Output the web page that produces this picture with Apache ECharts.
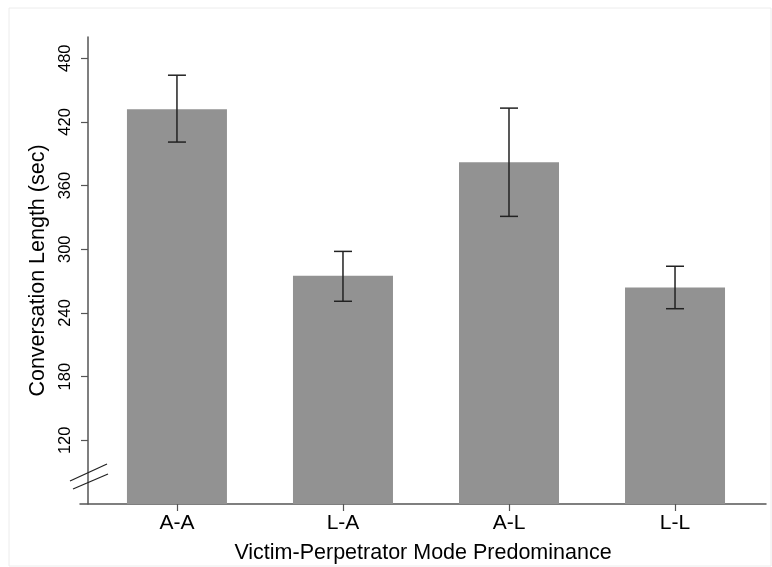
<!DOCTYPE html>
<html>
<head>
<meta charset="utf-8">
<script src="https://cdn.jsdelivr.net/npm/echarts@6/dist/echarts.min.js"></script>
<style>
html,body{margin:0;padding:0;background:#fff;}
#chart{width:772px;height:567px;}
</style>
</head>
<body>
<div id="chart"></div>
<script>
const categories = ['A-A', 'L-A', 'A-L', 'L-L'];
const means = [432, 275, 382, 264];
const errLow = [401, 251, 331, 244];
const errHigh = [464, 298, 433, 284];
const yTicks = [120, 180, 240, 300, 360, 420, 480];
const xPositions = [1, 2, 3, 4];

const chart = echarts.init(document.getElementById('chart'), null, {renderer: 'canvas'});
const FONT = 'Liberation Sans, Arial, Helvetica, sans-serif';

const option = {
  animation: false,
  backgroundColor: '#fff',
  grid: {left: 80, right: 6, top: 37, bottom: 63, containLabel: false, outerBoundsMode: 'none'},
  xAxis: {
    type: 'value',
    min: 0.416,
    max: 4.548,
    splitLine: {show: false},
    axisLine: {show: true, lineStyle: {color: '#555', width: 1.5}},
    axisTick: {show: true, customValues: xPositions, length: 7, lineStyle: {color: '#555', width: 1.2}},
    axisLabel: {
      customValues: xPositions,
      formatter: v => categories[Math.round(v) - 1],
      fontSize: 21, color: '#000', margin: 9, fontFamily: FONT
    },
    name: 'Victim-Perpetrator Mode Predominance',
    nameLocation: 'middle',
    nameGap: 38,
    nameTextStyle: {fontSize: 21.5, color: '#000', fontFamily: FONT}
  },
  yAxis: {
    type: 'value',
    min: 60,
    max: 500,
    interval: 60,
    offset: -8,
    splitLine: {show: false},
    axisLine: {show: true, lineStyle: {color: '#555', width: 1.5}},
    axisTick: {show: true, customValues: yTicks, length: 7, lineStyle: {color: '#555', width: 1.2}},
    axisLabel: {
      customValues: yTicks,
      rotate: 90,
      fontSize: 16.5, color: '#000', margin: 14, fontFamily: FONT
    },
    name: 'Conversation Length (sec)',
    nameLocation: 'middle',
    nameGap: 39,
    nameTextStyle: {fontSize: 21.5, color: '#000', fontFamily: FONT}
  },
  series: [
    {
      type: 'bar',
      barWidth: 100,
      itemStyle: {color: '#929292'},
      data: means.map((v, i) => [xPositions[i], v]),
      z: 2
    },
    {
      type: 'custom',
      z: 5,
      data: categories.map((c, i) => [xPositions[i], errLow[i], errHigh[i]]),
      renderItem: function (params, api) {
        const x = api.value(0);
        const lo = api.coord([x, api.value(1)]);
        const hi = api.coord([x, api.value(2)]);
        const hw = 9;
        const style = {stroke: '#222', lineWidth: 1.5};
        return {
          type: 'group',
          children: [
            {type: 'line', shape: {x1: lo[0], y1: lo[1], x2: hi[0], y2: hi[1]}, style: style},
            {type: 'line', shape: {x1: lo[0] - hw, y1: lo[1], x2: lo[0] + hw, y2: lo[1]}, style: style},
            {type: 'line', shape: {x1: hi[0] - hw, y1: hi[1], x2: hi[0] + hw, y2: hi[1]}, style: style}
          ]
        };
      }
    }
  ],
  graphic: [
    {type: 'rect', shape: {x: 9, y: 8, width: 762, height: 558}, style: {fill: 'none', stroke: '#ececec', lineWidth: 1}, z: -1},
    {type: 'line', shape: {x1: 70, y1: 481, x2: 107, y2: 464}, style: {stroke: '#222', lineWidth: 1.3}, z: 10},
    {type: 'line', shape: {x1: 73, y1: 489, x2: 108, y2: 474}, style: {stroke: '#222', lineWidth: 1.3}, z: 10}
  ]
};
chart.setOption(option);
</script>
</body>
</html>
